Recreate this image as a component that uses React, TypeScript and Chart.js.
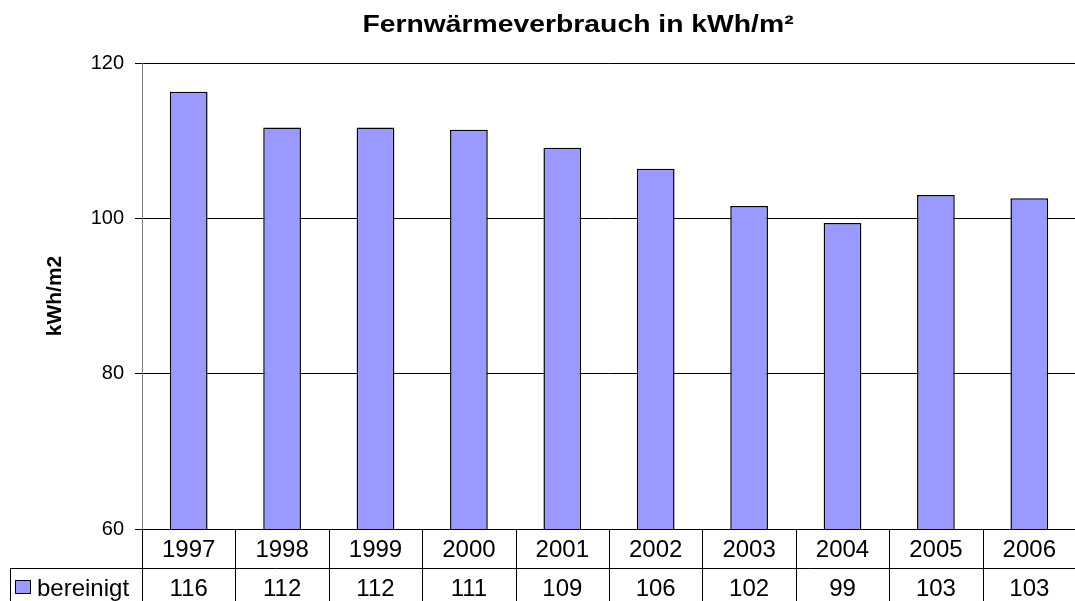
import React, { useEffect, useRef } from "react";
import { Chart, registerables } from "chart.js";

Chart.register(...registerables);

const chartTitle = "Fernwärmeverbrauch in kWh/m²";
const yAxisTitle = "kWh/m2";
const seriesName = "bereinigt";
const years = ["1997", "1998", "1999", "2000", "2001", "2002", "2003", "2004", "2005", "2006"];
const values = [116.3, 111.7, 111.7, 111.4, 109.1, 106.4, 101.6, 99.4, 103.0, 102.6];
const yMin = 60;
const yMax = 120;
const yStep = 20;

const FONT = "'Liberation Sans', Arial, Helvetica, sans-serif";
const BAR_FILL = "#9999FF";

const tablePlugin = {
  id: "tablePlugin",
  afterDraw(chart: any) {
    const { ctx, chartArea, scales } = chart;
    const xs = scales.x;
    const n = years.length;
    const top = chartArea.bottom;
    const rowH = 38.5;
    const mid = top + rowH;
    const bottom = top + rowH * 2 + 10;

    const bounds: number[] = [chartArea.left];
    for (let i = 0; i < n - 1; i++) {
      bounds.push((xs.getPixelForValue(i) + xs.getPixelForValue(i + 1)) / 2);
    }
    bounds.push(chartArea.right);

    ctx.save();
    ctx.strokeStyle = "#000";
    ctx.lineWidth = 1;
    ctx.beginPath();
    ctx.moveTo(10, Math.round(mid) + 0.5);
    ctx.lineTo(chartArea.right, Math.round(mid) + 0.5);
    ctx.moveTo(10.5, Math.round(mid));
    ctx.lineTo(10.5, bottom);
    for (const b of bounds) {
      const bx = Math.round(b) + 0.5;
      ctx.moveTo(bx, top);
      ctx.lineTo(bx, bottom);
    }
    ctx.stroke();

    ctx.fillStyle = "#000";
    ctx.font = `24px ${FONT}`;
    ctx.textAlign = "center";
    ctx.textBaseline = "alphabetic";
    for (let i = 0; i < n; i++) {
      const cx = xs.getPixelForValue(i);
      ctx.fillText(years[i], cx, top + 28);
      ctx.fillText(String(Math.round(values[i])), cx, mid + 28.5);
    }

    ctx.fillStyle = BAR_FILL;
    ctx.fillRect(15.5, 580.5, 15, 13);
    ctx.strokeStyle = "#000";
    ctx.strokeRect(15.5, 580.5, 15, 13);
    ctx.fillStyle = "#000";
    ctx.textAlign = "left";
    ctx.fillText(seriesName, 37, mid + 28.5);

    ctx.save();
    ctx.font = `bold 24px ${FONT}`;
    ctx.textAlign = "center";
    ctx.translate(578, 32);
    ctx.scale(1.18, 1);
    ctx.fillText(chartTitle, 0, 0);
    ctx.restore();

    ctx.save();
    ctx.font = `bold 21px ${FONT}`;
    ctx.textAlign = "center";
    ctx.translate(61, 296);
    ctx.rotate(-Math.PI / 2);
    ctx.fillText(yAxisTitle, 0, 0);
    ctx.restore();

    ctx.restore();
  },
};

export default function App() {
  const canvasRef = useRef<HTMLCanvasElement | null>(null);

  useEffect(() => {
    if (!canvasRef.current) return;
    const chart = new Chart(canvasRef.current, {
      type: "bar",
      data: {
        labels: years,
        datasets: [
          {
            label: seriesName,
            data: values,
            backgroundColor: BAR_FILL,
            borderColor: "#000",
            borderWidth: 1.5,
            categoryPercentage: 1,
            barPercentage: 0.404,
          },
        ],
      },
      options: {
        animation: false,
        responsive: true,
        maintainAspectRatio: false,
        layout: { padding: { top: 63, bottom: 72, left: 0, right: 4 } },
        plugins: {
          legend: { display: false },
          tooltip: { enabled: false },
          title: { display: false },
        },
        scales: {
          x: { display: false },
          y: {
            min: yMin,
            max: yMax,
            afterFit: (scale: any) => {
              scale.width = 142;
            },
            ticks: {
              stepSize: yStep,
              color: "#000",
              padding: 11,
              font: { family: FONT, size: 20 },
            },
            grid: {
              color: "#000",
              lineWidth: 1,
              tickLength: 7,
              drawTicks: true,
            },
            border: { color: "#808080", width: 1 },
          },
        },
      },
      plugins: [tablePlugin],
    });
    return () => chart.destroy();
  }, []);

  return (
    <div
      style={{
        position: "fixed",
        left: 0,
        top: 0,
        width: 1075,
        height: 601,
        overflow: "hidden",
        background: "#fff",
      }}
    >
      <div style={{ position: "relative", width: 1080, height: 601 }}>
        <canvas ref={canvasRef} />
      </div>
    </div>
  );
}
